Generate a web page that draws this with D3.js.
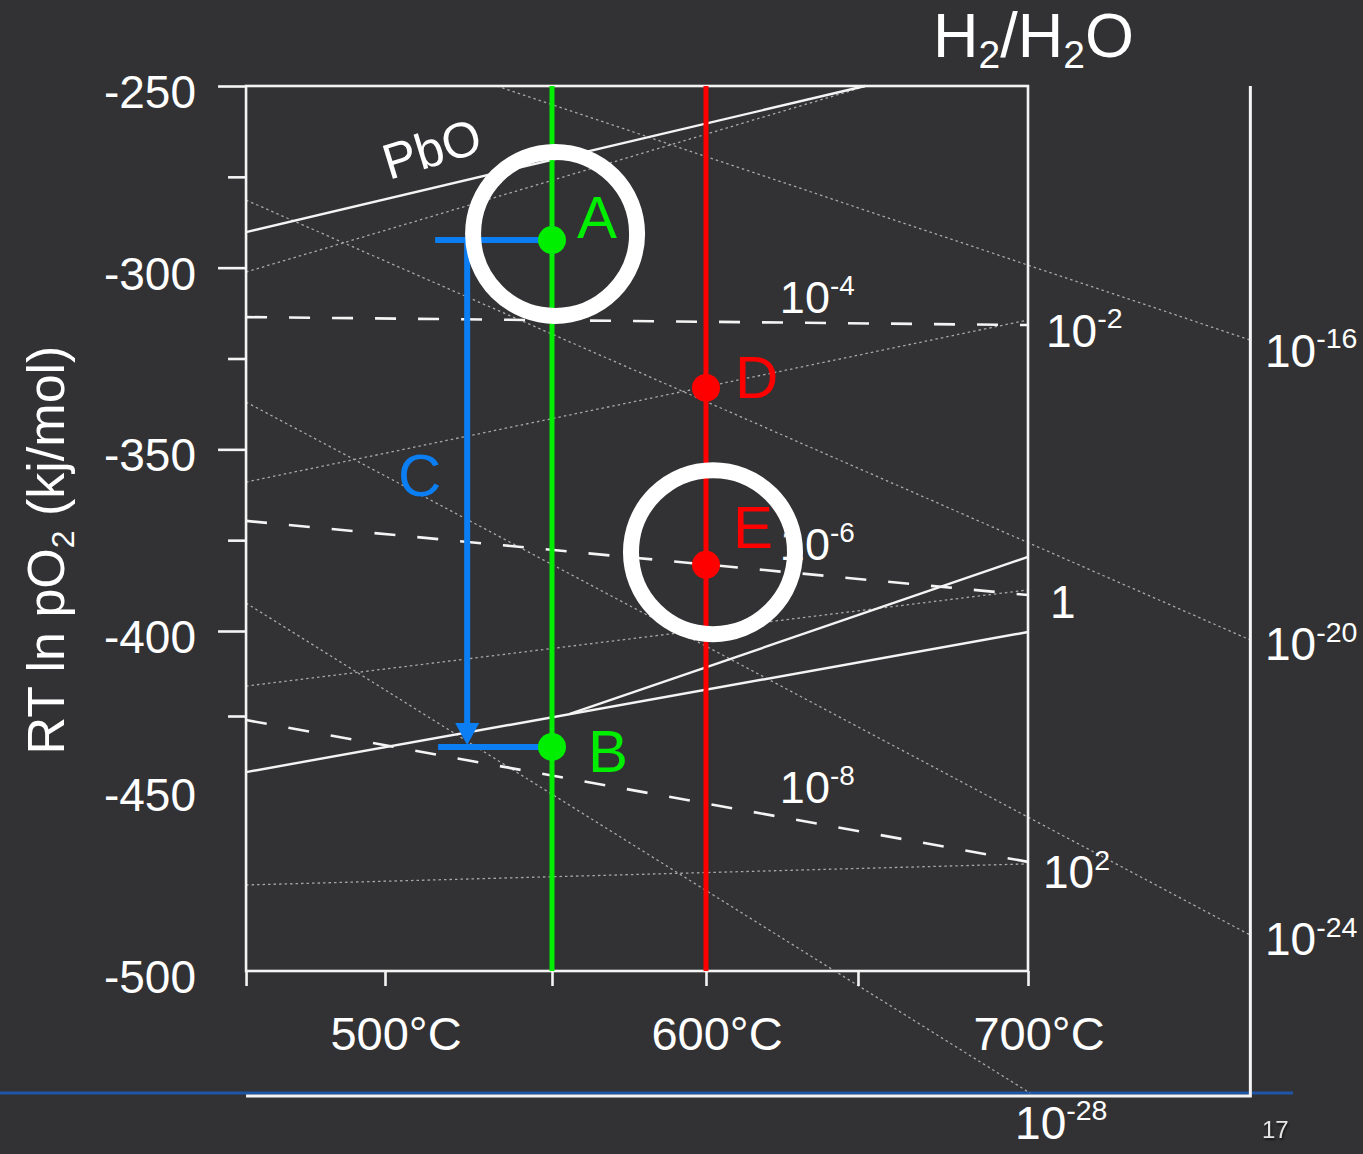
<!DOCTYPE html>
<html>
<head>
<meta charset="utf-8">
<script src="https://cdn.jsdelivr.net/npm/d3@7"></script>
<style>
body { margin:0; background:#323234; }
svg text { font-family:"Liberation Sans", Arial, sans-serif; fill:#fff; }
</style>
</head>
<body>
<div id="chart"></div>
<script>
// axes (temperature in °C, RT ln pO2 in kJ/mol)
const tempTicks = [500, 550, 600, 650, 700]
const tempLabels = [500, 600, 700]
const yMajor = [-250, -300, -350, -400]
const yMinor = [-275, -325, -375, -425]
const yLabels = [-250, -300, -350, -400, -450, -500]

// plot frame + outer nomogram frame, in data units
const tLeft = 458.4, tRight = 700, vTop = -250, vBottom = -500
const tOuter = 765.4, vOuter = -536.8

// oxide lines (solid), [[T, v], [T, v]]
const solidLines = [
  [[458.4, -290.2], [652.1, -250]],    // PbO
  [[458.4, -441.5], [700, -400.3]],
  [[555.8, -424.4], [700, -379.6]]
]
// H2/H2O ratio lines (dashed)
const dashedLines = [
  [[458.4, -313.6], [700, -315.8]],
  [[458.4, -369.7], [700, -390.1]],
  [[458.4, -426.2], [700, -467.9]]
]
// pO2 / CO ratio guide lines (dotted)
const dottedLines = [
  [[533.5, -250], [765.3, -319.9]],
  [[458.4, -281.4], [765.3, -402.6]],
  [[458.4, -337.0], [765.3, -489.4]],
  [[458.4, -392.3], [700.6, -535.9]],
  [[458.4, -301.2], [652.6, -250]],
  [[458.4, -359.0], [700, -314.4]],
  [[458.4, -416.2], [700, -388.7]],
  [[458.4, -474.7], [700, -468.5]]
]

// labelled states
const pointNames = ["A", "B", "D", "E"]
const pointT = [550, 550, 600, 600]
const pointV = [-292.4, -434.1, -333.1, -381.8]

// process lines at 550 °C and 600 °C
const isoT = [550, 600]

// reduction arrow C
const arrowT = 524.6
const arrowFromV = -292.4, arrowTipV = -433.5
const legStartT = [515, 515.9]
const legV = [-292.4, -434.1]
const cLabel = {t: 503.9, v: -362.8}

// circled states
const ringT = [551, 602.3]
const ringV = [-290.7, -378.3]

// ratio labels: [text, exponent, T, v]
const innerRatio = [["10", "-4", 624.3, -312.5], ["10", "-6", 624.3, -380.5], ["10", "-8", 624.3, -450.6]]
const h2Ratio = [["10", "-2", 705.3, -321.8], ["1", "", 706.5, -396.4], ["10", "2", 704.4, -475.6]]
const pO2Ratio = [["10", "-16", 769.7, -327.3], ["10", "-20", 769.7, -408.5], ["10", "-24", 769.7, -495.3], ["10", "-28", 696.2, -549.3]]

const width = 1363, height = 1154
const x = d3.scaleLinear().domain(tempTicks).range([385, 552, 706, 858, 1028])
const y = d3.scaleLinear().domain([-250, -400, -500]).range([86, 631, 971])

const colors = {green:"#00ee00", red:"#ff0000", blue:"#0b7ef4", white:"#f4f4f4", dot:"#a8a8a8"}
const pointColor = ["green", "green", "red", "red"]
const labelOffset = [[25, -2], [36, 25], [29, 10], [27, -17]]

let svg = d3.select("#chart").append("svg")
  .attr("width", width)
  .attr("height", height)

svg.append("rect").attr("width", width).attr("height", height).attr("fill", "#323234")

// slide rule line
svg.append("line")
  .attr("x1", 0).attr("x2", 1293)
  .attr("y1", 1093).attr("y2", 1093)
  .attr("stroke", "#1f55a6").attr("stroke-width", 3)

let line = d3.line().x(d => x(d[0])).y(d => y(d[1]))

svg.append("g").selectAll("path")
  .data(dottedLines).enter().append("path")
  .attr("d", line)
  .attr("fill", "none")
  .attr("stroke", colors.dot)
  .attr("stroke-width", 1.3)
  .attr("stroke-dasharray", "2.5,3")

svg.append("g").selectAll("path")
  .data(dashedLines).enter().append("path")
  .attr("d", line)
  .attr("fill", "none")
  .attr("stroke", colors.white)
  .attr("stroke-width", 2.6)
  .attr("stroke-dasharray", "21,22")

svg.append("g").selectAll("path")
  .data(solidLines).enter().append("path")
  .attr("d", line)
  .attr("fill", "none")
  .attr("stroke", colors.white)
  .attr("stroke-width", 2.4)

// frames
svg.append("rect")
  .attr("x", x(tLeft)).attr("y", y(vTop))
  .attr("width", x(tRight) - x(tLeft))
  .attr("height", y(vBottom) - y(vTop))
  .attr("fill", "none").attr("stroke", colors.white).attr("stroke-width", 2.6)

svg.append("path")
  .attr("d", `M${x(tLeft)},${y(vOuter)}H${x(tOuter)}V${y(vTop)}`)
  .attr("fill", "none").attr("stroke", colors.white).attr("stroke-width", 3)

// axes ticks
let yAxisMajor = d3.axisLeft(y).tickValues(yMajor).tickSize(28).tickFormat("")
let yAxisMinor = d3.axisLeft(y).tickValues(yMinor).tickSize(18).tickFormat("")
let xAxis = d3.axisBottom(x).tickValues([tLeft].concat(tempTicks)).tickSize(15).tickFormat("")

for (const ax of [yAxisMajor, yAxisMinor]) {
  svg.append("g")
    .attr("transform", `translate(${x(tLeft)},0)`)
    .call(ax)
    .call(g => g.select(".domain").remove())
    .call(g => g.selectAll("line").attr("stroke", colors.white).attr("stroke-width", 2.6))
}
svg.append("g")
  .attr("transform", `translate(0,${y(vBottom)})`)
  .call(xAxis)
  .call(g => g.select(".domain").remove())
  .call(g => g.selectAll("line").attr("stroke", colors.white).attr("stroke-width", 2.6))

// tick labels (the -450 label sits a little high in the original)
svg.append("g").selectAll("text")
  .data(yLabels).enter().append("text")
  .attr("x", 196)
  .attr("y", d => y(d) + (d == -450 ? -6 : 6))
  .attr("dy", "0.35em")
  .attr("text-anchor", "end")
  .attr("font-size", 46)
  .text(d => d)

svg.append("g").selectAll("text")
  .data(tempLabels).enter().append("text")
  .attr("x", d => x(d) + 11)
  .attr("y", 1050)
  .attr("text-anchor", "middle")
  .attr("font-size", 47)
  .text(d => d + "°C")

// axis title
let yTitle = svg.append("text")
  .attr("transform", "translate(64,550) rotate(-90)")
  .attr("text-anchor", "middle")
  .attr("font-size", 52)
yTitle.append("tspan").text("RT ln pO")
yTitle.append("tspan").attr("font-size", 32).attr("dy", 10).text("2")
yTitle.append("tspan").attr("dy", -10).text(" (kj/mol)")

// H2/H2O heading
let head = svg.append("text").attr("x", 933).attr("y", 57).attr("font-size", 63)
head.append("tspan").text("H")
head.append("tspan").attr("font-size", 39).attr("dy", 11).text("2")
head.append("tspan").attr("dy", -11).text("/H")
head.append("tspan").attr("font-size", 39).attr("dy", 11).text("2")
head.append("tspan").attr("dy", -11).text("O")

// PbO label
svg.append("text")
  .attr("transform", `translate(${x(501.2)},${y(-275.9)}) rotate(-17)`)
  .attr("font-size", 50)
  .text("PbO")

function powLabel(g, d, size) {
  let t = g.append("text")
    .attr("x", x(d[2])).attr("y", y(d[3]))
    .attr("font-size", size)
  t.append("tspan").text(d[0])
  if (d[1]) t.append("tspan").attr("font-size", size * 0.62).attr("dy", -size * 0.4).text(d[1])
}
let ratioG = svg.append("g")
innerRatio.forEach(d => powLabel(ratioG, d, 45))
h2Ratio.forEach(d => powLabel(ratioG, d, 46))
pO2Ratio.forEach(d => powLabel(ratioG, d, 46))

// isothermal lines
svg.append("g").selectAll("line")
  .data(isoT).enter().append("line")
  .attr("x1", d => x(d)).attr("x2", d => x(d))
  .attr("y1", y(vTop)).attr("y2", y(vBottom))
  .attr("stroke", (d, i) => i == 0 ? colors.green : colors.red)
  .attr("stroke-width", 5)

// arrow C
let arrowG = svg.append("g").attr("stroke", colors.blue).attr("stroke-width", 6)
legStartT.forEach((t, i) => {
  arrowG.append("line")
    .attr("x1", x(t)).attr("x2", x(pointT[0]))
    .attr("y1", y(legV[i])).attr("y2", y(legV[i]))
})
arrowG.append("line")
  .attr("x1", x(arrowT)).attr("x2", x(arrowT))
  .attr("y1", y(arrowFromV)).attr("y2", y(arrowTipV) - 20)
let tipX = x(arrowT), tipY = y(arrowTipV)
svg.append("path")
  .attr("d", `M${tipX - 12},${tipY - 22}L${tipX + 12},${tipY - 22}L${tipX},${tipY}Z`)
  .attr("fill", colors.blue)

svg.append("text")
  .attr("x", x(cLabel.t)).attr("y", y(cLabel.v))
  .attr("font-size", 60)
  .style("fill", colors.blue)
  .text("C")

// points
svg.append("g").selectAll("circle")
  .data(pointNames).enter().append("circle")
  .attr("cx", (d, i) => x(pointT[i]))
  .attr("cy", (d, i) => y(pointV[i]))
  .attr("r", 14)
  .attr("fill", (d, i) => colors[pointColor[i]])

svg.append("g").selectAll("text")
  .data(pointNames).enter().append("text")
  .attr("x", (d, i) => x(pointT[i]) + labelOffset[i][0])
  .attr("y", (d, i) => y(pointV[i]) + labelOffset[i][1])
  .attr("font-size", 60)
  .style("fill", (d, i) => colors[pointColor[i]])
  .text(d => d)

// rings
svg.append("g").selectAll("circle")
  .data(ringT).enter().append("circle")
  .attr("cx", d => x(d))
  .attr("cy", (d, i) => y(ringV[i]))
  .attr("r", 82)
  .attr("fill", "none")
  .attr("stroke", "#fff")
  .attr("stroke-width", 16)

// slide number
svg.append("text")
  .attr("x", 1262).attr("y", 1138)
  .attr("font-size", 24)
  .style("fill", "#e6e6e6")
  .style("filter", "drop-shadow(1px 2px 1px rgba(0,0,0,0.6))")
  .text("17")
</script>
</body>
</html>
